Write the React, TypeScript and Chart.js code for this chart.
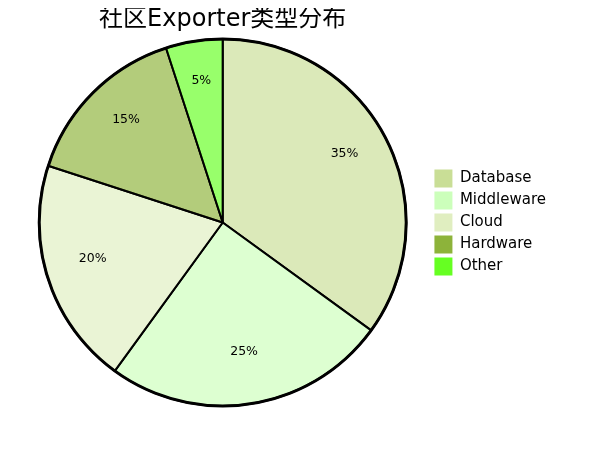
import React, { useEffect, useRef } from "react";
import { Chart, registerables } from "chart.js";

Chart.register(...registerables);

const categories = ["Database", "Middleware", "Cloud", "Hardware", "Other"];
const values = [35, 25, 20, 15, 5];
const baseColors = ["#c9de96", "#ccffbb", "#e0eec0", "#8db33a", "#66ff22"];
const sliceAlpha = 0.67;
const titleText = "社区Exporter类型分布";
const FONT = "'DejaVu Sans', 'Noto Sans CJK SC', sans-serif";

function withAlpha(hex: string, a: number) {
  const r = parseInt(hex.slice(1, 3), 16);
  const g = parseInt(hex.slice(3, 5), 16);
  const b = parseInt(hex.slice(5, 7), 16);
  return `rgba(${r},${g},${b},${a})`;
}

const pctLabels = {
  id: "pctLabels",
  afterDatasetsDraw(chart: any) {
    const ctx = chart.ctx;
    const meta = chart.getDatasetMeta(0);
    const total = values.reduce((s, v) => s + v, 0);
    ctx.save();
    // thicker outer rim
    if (meta.data.length) {
      const a0 = meta.data[0].getProps(["x", "y", "outerRadius"], true);
      ctx.beginPath();
      ctx.arc(a0.x, a0.y, a0.outerRadius, 0, Math.PI * 2);
      ctx.lineWidth = 3;
      ctx.strokeStyle = "#000";
      ctx.stroke();
    }
    ctx.font = `12.5px ${FONT}`;
    ctx.fillStyle = "#000";
    ctx.textAlign = "center";
    ctx.textBaseline = "bottom";
    meta.data.forEach((arc: any, i: number) => {
      const { x, y, startAngle, endAngle, outerRadius } = arc.getProps(
        ["x", "y", "startAngle", "endAngle", "outerRadius"],
        true
      );
      const mid = (startAngle + endAngle) / 2;
      const r = outerRadius * 0.745;
      const pct = Math.round((values[i] / total) * 100);
      ctx.fillText(`${pct}%`, x + Math.cos(mid) * r, y + Math.sin(mid) * r);
    });
    ctx.restore();
  },
};

export default function App() {
  const ref = useRef<HTMLCanvasElement | null>(null);
  useEffect(() => {
    if (!ref.current) return;
    const chart = new Chart(ref.current, {
      type: "pie",
      data: {
        labels: categories,
        datasets: [
          {
            data: values,
            backgroundColor: baseColors.map((c) => withAlpha(c, sliceAlpha)),
            borderColor: "#000",
            borderWidth: 2,
          },
        ],
      },
      options: {
        animation: false,
        responsive: true,
        maintainAspectRatio: false,
        layout: { padding: { left: 7, right: 0, top: 0, bottom: 1 } },
        plugins: {
          title: {
            display: true,
            text: titleText,
            color: "#000",
            fullSize: false,
            font: { family: FONT, size: 24, weight: "normal", lineHeight: 1.0 },
            padding: { top: 0, bottom: 6 },
          },
          legend: {
            position: "right",
            fullSize: false,
            labels: {
              color: "#000",
              boxWidth: 18,
              boxHeight: 18,
              padding: 4,
              font: { family: FONT, size: 15 },
              generateLabels: () =>
                categories.map((c, i) => ({
                  text: c,
                  fillStyle: baseColors[i],
                  strokeStyle: "rgba(0,0,0,0)",
                  lineWidth: 0,
                  hidden: false,
                  index: i,
                  datasetIndex: 0,
                })),
            },
          },
          tooltip: { enabled: false },
        },
      },
      plugins: [pctLabels],
    });
    return () => chart.destroy();
  }, []);
  return (
    <div style={{ width: 548, height: 400, position: "relative" }}>
      <canvas ref={ref} />
    </div>
  );
}
